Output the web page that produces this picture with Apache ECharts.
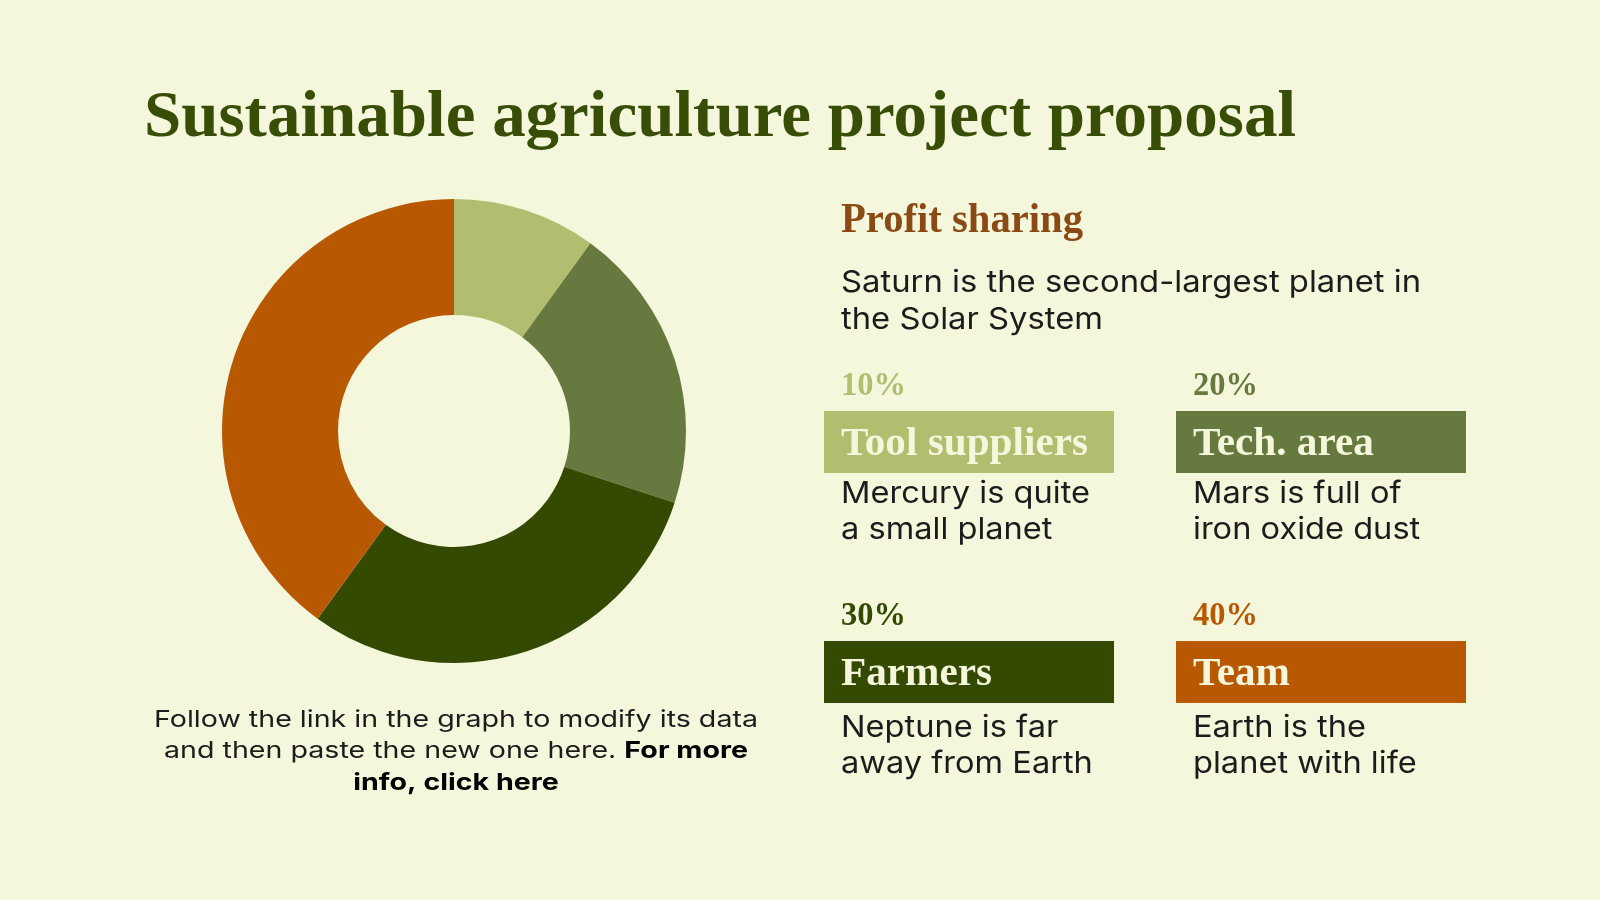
<!DOCTYPE html>
<html>
<head>
<meta charset="utf-8">
<script src="https://cdn.jsdelivr.net/npm/echarts@6/dist/echarts.min.js"></script>
<style>
html,body{margin:0;padding:0;background:#f4f7dc;}
#main{width:1600px;height:900px;}
</style>
</head>
<body>
<div id="main"></div>
<script>
// ---- data ----
const titleText = 'Sustainable agriculture project proposal';
const subtitleText = 'Profit sharing';
const introLines = ['Saturn is the second-largest planet in', 'the Solar System'];
const categories = ['Tool suppliers', 'Tech. area', 'Farmers', 'Team'];
const shares = [10, 20, 30, 40];
const percentLabels = ['10%', '20%', '30%', '40%'];
const descriptions = [
  ['Mercury is quite', 'a small planet'],
  ['Mars is full of', 'iron oxide dust'],
  ['Neptune is far', 'away from Earth'],
  ['Earth is the', 'planet with life']
];
const noteLine1 = 'Follow the link in the graph to modify its data';
const noteLine2a = 'and then paste the new one here. ';
const noteLine2b = 'For more';
const noteLine3 = 'info, click here';
const sliceColors = ['#b3bd6f', '#667a40', '#344a00', '#b85800'];

// ---- helpers ----
const SERIF = "'Liberation Serif', serif";
const SANS = "Inter, sans-serif";
const ctx = document.createElement('canvas').getContext('2d');
function fontStr(o) { return (o.weight || 'normal') + ' ' + o.size + 'px ' + o.family; }
function measure(str, o) { ctx.font = fontStr(o); ctx.textBaseline = 'middle'; return ctx.measureText(str).width; }
function midOffset(o) { ctx.font = fontStr(o); ctx.textBaseline = 'middle'; return ctx.measureText('H').actualBoundingBoxDescent; }
function txt(str, x, baseline, o, sx, color) {
  return {
    type: 'text', x: x, y: baseline - midOffset(o), scaleX: sx, scaleY: 1, originX: 0, originY: 0, silent: true, z: 10,
    style: { text: str, x: 0, y: 0, font: fontStr(o), fill: color, textAlign: 'left', textVerticalAlign: 'middle' }
  };
}
function fitScale(str, o, target) { return target / measure(str, o); }

const textColor = '#1c1c1c';
const cream = '#f4f7dc';
const g = [];

// title
const fTitle = { family: SERIF, weight: 'bold', size: 65 };
g.push(txt(titleText, 144, 136, fTitle, fitScale(titleText, fTitle, 1152), '#384d05'));

// subtitle
const fSub = { family: SERIF, weight: 'bold', size: 42 };
g.push(txt(subtitleText, 841, 232, fSub, fitScale(subtitleText, fSub, 242), '#8b4a14'));

// intro
const fBody = { family: SANS, weight: 'normal', size: 30 };
const sBody = fitScale(introLines[0], fBody, 580);
g.push(txt(introLines[0], 841, 292, fBody, sBody, textColor));
g.push(txt(introLines[1], 841, 329, fBody, sBody, textColor));

// cards
const cardX = [824, 1176, 824, 1176];
const cardTop = [411, 411, 641, 641];
const cardW = 290, cardH = 62;
const pctBase = [395, 395, 625, 625];
const descBase = [[503, 539], [503, 539], [737, 773], [737, 773]];
const fPct = { family: SERIF, weight: 'bold', size: 33 };
const sPct = fitScale('10%', fPct, 65);
const fLab = { family: SERIF, weight: 'bold', size: 39 };
const sLab = fitScale(categories[0], fLab, 247);
const sDesc = fitScale(descriptions[0][0], fBody, 249);
categories.forEach(function (c, i) {
  const tx = cardX[i] + 17;
  g.push(txt(percentLabels[i], tx, pctBase[i], fPct, sPct, sliceColors[i]));
  g.push({ type: 'rect', silent: true, z: 5, shape: { x: cardX[i], y: cardTop[i], width: cardW, height: cardH }, style: { fill: sliceColors[i] } });
  g.push(txt(c, tx, cardTop[i] + 44, fLab, sLab, cream));
  g.push(txt(descriptions[i][0], tx, descBase[i][0], fBody, sDesc, textColor));
  g.push(txt(descriptions[i][1], tx, descBase[i][1], fBody, sDesc, textColor));
});

// note below chart
const fNote = { family: SANS, weight: 'normal', size: 23.5 };
const fNoteB = { family: SANS, weight: 'bold', size: 23.5 };
const sNote = fitScale(noteLine1, fNote, 604);
const cx = 456;
let w1 = measure(noteLine1, fNote) * sNote;
g.push(txt(noteLine1, cx - w1 / 2, 727, fNote, sNote, textColor));
let w2a = measure(noteLine2a, fNote) * sNote, w2b = measure(noteLine2b, fNoteB) * sNote;
let l2 = cx - (w2a + w2b) / 2;
g.push(txt(noteLine2a, l2, 758, fNote, sNote, textColor));
g.push(txt(noteLine2b, l2 + w2a, 758, fNoteB, sNote, '#000'));
let w3 = measure(noteLine3, fNoteB) * sNote;
g.push(txt(noteLine3, cx - w3 / 2, 790, fNoteB, sNote, '#000'));

const chart = echarts.init(document.getElementById('main'), null, { renderer: 'canvas' });
chart.setOption({
  backgroundColor: '#f4f7dc',
  animation: false,
  series: [{
    type: 'pie',
    center: [454, 431],
    radius: [116, 232],
    startAngle: 90,
    clockwise: true,
    silent: true,
    label: { show: false },
    labelLine: { show: false },
    itemStyle: { borderWidth: 0 },
    data: categories.map(function (c, i) { return { name: c, value: shares[i], itemStyle: { color: sliceColors[i] } }; })
  }],
  graphic: g
});
</script>
</body>
</html>
